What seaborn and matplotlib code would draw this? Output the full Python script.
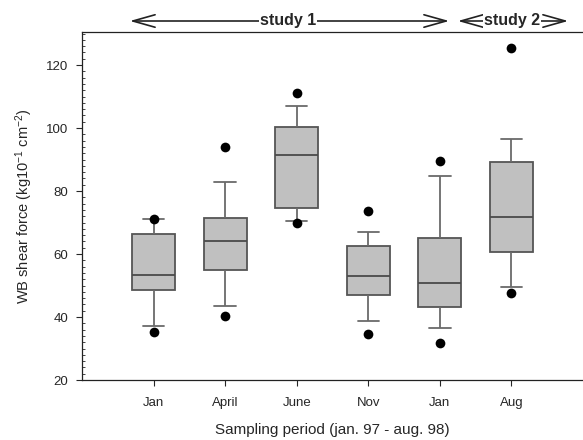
import matplotlib
matplotlib.use("Agg")
import matplotlib.pyplot as plt
from matplotlib.patches import FancyArrowPatch
from matplotlib.ticker import MultipleLocator
import seaborn as sns
import pandas as pd

# ---- data ----
periods = ["Jan97", "Apr97", "Jun97", "Nov97", "Jan98", "Aug98"]
tick_labels = ["Jan", "April", "June", "Nov", "Jan", "Aug"]
whisker_low = [37.0, 43.5, 70.6, 38.7, 36.4, 49.6]
q1 = [48.6, 54.9, 74.5, 47.1, 43.2, 60.6]
median = [53.4, 64.0, 91.3, 53.1, 50.7, 71.7]
q3 = [66.3, 71.4, 100.2, 62.4, 65.2, 89.2]
whisker_high = [71.0, 83.0, 107.0, 67.0, 84.7, 96.4]
outlier_low = [35.2, 40.3, 69.7, 34.5, 31.8, 47.7]
outlier_high = [71.0, 94.0, 111.1, 73.7, 89.6, 125.3]

rows = []
for i, p in enumerate(periods):
    for v in (whisker_low[i], q1[i], median[i], q3[i], whisker_high[i]):
        rows.append({"period": p, "value": v})
box_df = pd.DataFrame(rows)
out_df = pd.DataFrame({
    "period": periods + periods,
    "value": outlier_low + outlier_high,
})

sns.set_style("ticks")
plt.rcParams["font.family"] = ["Liberation Sans", "DejaVu Sans"]
plt.rcParams["mathtext.fontset"] = "custom"
plt.rcParams["mathtext.rm"] = "Liberation Sans"
plt.rcParams["mathtext.it"] = "Liberation Sans"

W, H = 583, 440
fig = plt.figure(figsize=(W / 100, H / 100), dpi=100)
ax = fig.add_axes([82 / W, (H - 380) / H, (W - 82) / W, (380 - 32) / H])

line_c = "#555555"
sns.boxplot(data=box_df, x="period", y="value", order=periods, whis=(0, 100),
            width=0.6, color="#c0c0c0", saturation=1, linecolor=line_c,
            linewidth=1.3, showfliers=False, ax=ax,
            medianprops={"color": "#4a4a4a", "linewidth": 1.3},
            whiskerprops={"color": "#6a6a6a", "linewidth": 1.3},
            capprops={"color": "#6a6a6a", "linewidth": 1.3})
sns.stripplot(data=out_df, x="period", y="value", order=periods, jitter=False,
              color="black", size=7, ax=ax, zorder=5)

ax.set_xlim(-1, 6)
ax.set_ylim(20, 130.5)
ax.yaxis.set_major_locator(MultipleLocator(20))
ax.yaxis.set_minor_locator(MultipleLocator(2))
ax.tick_params(axis="y", which="major", direction="out", length=4, labelsize=9.5, width=0.8, pad=6)
ax.tick_params(axis="y", which="minor", direction="in", length=2.5, width=0.6)
ax.tick_params(axis="x", which="major", direction="out", length=4, labelsize=9.5, width=0.8, pad=8)
ax.set_xticks(range(len(periods)))
ax.set_xticklabels(tick_labels)

ax.spines["right"].set_visible(False)
for s in ("left", "bottom", "top"):
    ax.spines[s].set_linewidth(0.9)
    ax.spines[s].set_color("#222222")

ax.set_xlabel("Sampling period (jan. 97 - aug. 98)", fontsize=11, labelpad=10)
ax.set_ylabel("WB shear force (kg10$^{\\mathrm{-1}}$ cm$^{\\mathrm{-2}}$)", fontsize=10.5, labelpad=8)

# study arrows (figure pixel coordinates, origin bottom-left)
y_arrow = H - 21
for x0, x1, label, xc in [(127, 452, "study 1", 288), (455, 571, "study 2", 512)]:
    arr = FancyArrowPatch((x0, y_arrow), (x1, y_arrow), transform=None,
                          arrowstyle="<->,head_length=1.6,head_width=0.45",
                          mutation_scale=10, color="#222222", linewidth=1.2)
    fig.add_artist(arr)
    fig.text(xc / W, y_arrow / H, label, ha="center", va="center",
             fontsize=11.5, fontweight="bold",
             bbox=dict(facecolor="white", edgecolor="none", pad=0.3))

fig.savefig("out.png", dpi=100)
